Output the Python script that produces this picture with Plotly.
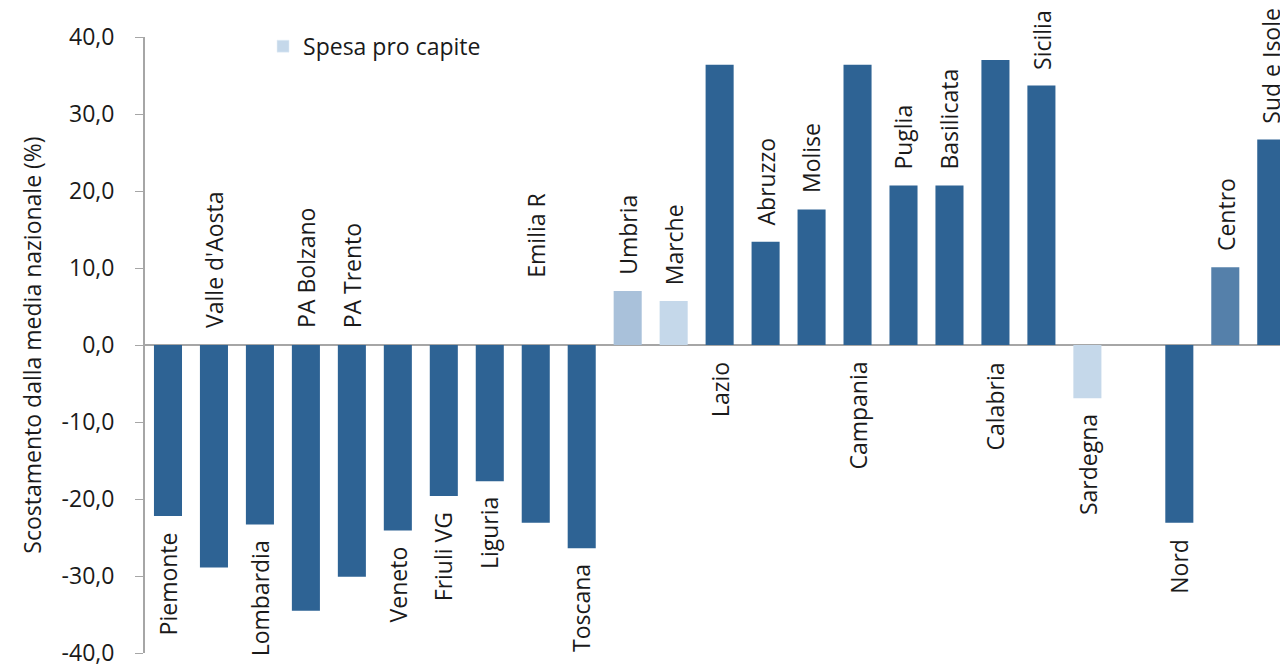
import plotly.graph_objects as go

# ---- data ----
regions = ["Piemonte", "Valle d'Aosta", "Lombardia", "PA Bolzano", "PA Trento",
           "Veneto", "Friuli VG", "Liguria", "Emilia R", "Toscana", "Umbria",
           "Marche", "Lazio", "Abruzzo", "Molise", "Campania", "Puglia",
           "Basilicata", "Calabria", "Sicilia", "Sardegna",
           "Nord", "Centro", "Sud e Isole"]
values = [-22.2, -28.9, -23.3, -34.5, -30.1,
          -24.1, -19.6, -17.7, -23.1, -26.4, 7.0,
          5.7, 36.4, 13.4, 17.6, 36.4, 20.7,
          20.7, 37.0, 33.7, -6.9,
          -23.1, 10.1, 26.7]
series_name = "Spesa pro capite"
y_ticks = [-40, -30, -20, -10, 0, 10, 20, 30, 40]
y_tick_labels = [f"{v:.1f}".replace(".", ",") for v in y_ticks]

# ---- style ----
DARK = "#2E6394"
LIGHT = "#C5D8EA"
bar_colors = [DARK] * len(regions)
bar_colors[regions.index("Umbria")] = "#A9C1DA"
bar_colors[regions.index("Marche")] = LIGHT
bar_colors[regions.index("Sardegna")] = LIGHT
bar_colors[regions.index("Centro")] = "#5580AA"

# label placement: "end" = beyond bar end, "opp" = opposite side of the axis
label_side = ["end", "opp", "end", "opp", "opp",
              "end", "end", "end", "opp", "end", "end",
              "end", "opp", "end", "end", "opp", "end",
              "end", "opp", "end", "end",
              "end", "end", "end"]
extra_shift = {"Emilia R": 50}

FONT = "Open Sans"
TXT = "#1a1a1a"
FS = 23

# category order with a blank spacer between regions and macro-areas
cat_order = regions[:21] + [" "] + regions[21:]

fig = go.Figure()
fig.add_trace(go.Bar(
    x=regions, y=values, marker=dict(color=bar_colors, line=dict(width=0)),
    width=0.61, showlegend=False, name=series_name,
))
# legend entry
fig.add_trace(go.Bar(x=[None], y=[None], name=series_name,
                     marker=dict(color=LIGHT), showlegend=True))

annotations = []
for name, v, side in zip(regions, values, label_side):
    shift = 14 + extra_shift.get(name, 0)
    if side == "end":
        y = v
        up = v >= 0
    else:
        y = 0
        up = v < 0
        shift = 15 + extra_shift.get(name, 0)
    annotations.append(dict(
        x=name, y=y, xref="x", yref="y", text=name, showarrow=False,
        textangle=-90, xanchor="center",
        yanchor="bottom" if up else "top",
        yshift=shift if up else -shift,
        font=dict(family=FONT, size=FS, color=TXT),
    ))

fig.update_layout(
    width=1280, height=668,
    margin=dict(l=145, r=0, t=37, b=13),
    paper_bgcolor="white", plot_bgcolor="white",
    font=dict(family=FONT, size=FS, color=TXT),
    bargap=0.39,
    legend=dict(x=0.104, y=1.02, xanchor="left", yanchor="top",
                font=dict(family=FONT, size=FS, color=TXT),
                bgcolor="rgba(0,0,0,0)"),
    xaxis=dict(type="category", categoryorder="array", categoryarray=cat_order,
               range=[-0.5, 24.19], showticklabels=False, showgrid=False,
               showline=False, ticks="", zeroline=False),
    yaxis=dict(range=[-40, 40], tickvals=y_ticks, ticktext=y_tick_labels,
               showgrid=False, zeroline=True, zerolinecolor="#A6A6A6",
               zerolinewidth=2, showline=True, linecolor="#A6A6A6", linewidth=2,
               ticks="outside", ticklen=8, tickcolor="#A6A6A6", tickwidth=1,
               ticklabelstandoff=16, ticklabeloverflow="allow",
               tickfont=dict(family=FONT, size=FS, color=TXT),
               title=dict(text="Scostamento dalla media nazionale (%)",
                          font=dict(family=FONT, size=23, color=TXT),
                          standoff=14)),
    annotations=annotations,
)

fig.write_html(
    "out.html",
    config={"displayModeBar": False},
    post_script="document.body.style.margin='0px';"
                "document.body.style.overflow='hidden';",
)
